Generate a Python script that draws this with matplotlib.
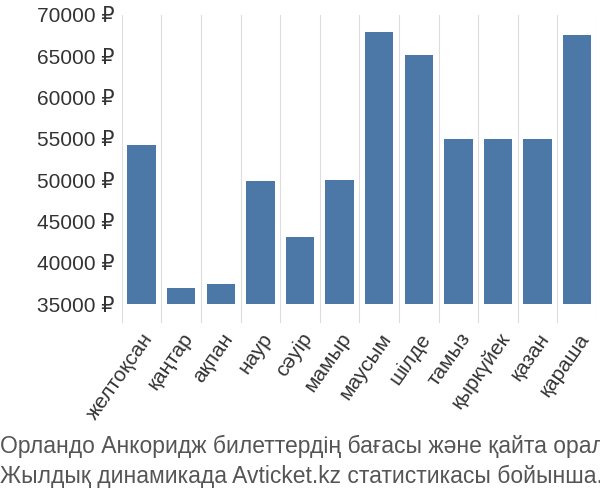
import matplotlib
matplotlib.use("Agg")
import matplotlib.pyplot as plt

plt.rcParams['font.family'] = ['Liberation Sans', 'DejaVu Sans']

months = ["желтоқсан", "қаңтар", "ақпан", "наур", "сәуір", "мамыр", "маусым",
          "шілде", "тамыз", "қыркүйек", "қазан", "қараша"]
prices = [54300, 37000, 37450, 49900, 43100, 50000, 67900, 65200, 55000, 55000, 55000, 67600]
yticks = [35000, 40000, 45000, 50000, 55000, 60000, 65000, 70000]
base = 35000

fig = plt.figure(figsize=(6, 5), dpi=100)
ax = fig.add_axes([0.203, 0.355, 0.792, 0.615])
x = range(len(months))
ax.bar(x, [p - base for p in prices], bottom=base, width=0.72, color="#4c78a8", zorder=2)
ax.set_ylim(32800, 70000)
ax.set_xlim(-0.5, len(months) - 0.5)
ax.set_yticks(yticks)
ax.set_yticklabels([f"{v} ₽" for v in yticks], fontsize=15, color="#333333")
ax.set_xticks(list(x))
ax.set_xticklabels(months, rotation=55, ha="right", rotation_mode="anchor", fontsize=15, color="#333333")
for s in ax.spines.values():
    s.set_visible(False)
ax.tick_params(length=0, pad=5)
ax.set_xticks([i - 0.5 for i in range(len(months) + 1)], minor=True)
ax.grid(axis="x", which="minor", color="#dddddd", linewidth=0.8, zorder=0)
ax.tick_params(which="minor", length=0)
ax.set_axisbelow(True)

fig.text(0.0, 0.093, "Орландо Анкоридж билеттердің бағасы және қайта оралу", fontsize=16.5, color="#555555")
fig.text(0.0, 0.033, "Жылдық динамикада Avticket.kz статистикасы бойынша.", fontsize=16.5, color="#555555")
fig.savefig("out.png", dpi=100)
